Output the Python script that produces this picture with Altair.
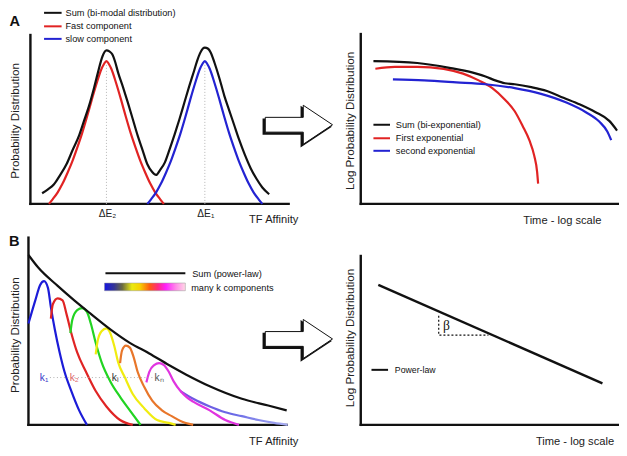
import altair as alt
import pandas as pd

# ---------------- values ----------------
# Panel A, left: probability distribution vs TF affinity (arbitrary units from axis corner)
fast_x = [19, 23, 28, 33, 38, 43, 48, 53, 58, 63, 68, 73, 75.5, 78, 80.5, 83, 88, 93, 98, 103, 108, 113, 118, 123, 128, 133, 137]
fast_y = [0, 5, 12, 21, 32, 44, 58, 73, 90, 108, 125, 140, 145, 148, 145, 140, 125, 108, 90, 73, 58, 44, 32, 21, 12, 5, 0]
slow_x = [120, 124, 129, 134, 139, 144, 149, 154, 159, 164, 169, 174, 176.5, 179, 181.5, 184, 189, 194, 199, 204, 209, 214, 219, 224, 229, 234, 238]
slow_y = [0, 5, 12, 21, 32, 44, 58, 73, 90, 108, 125, 140, 145, 148, 145, 140, 125, 108, 90, 73, 58, 44, 32, 21, 12, 5, 0]
bimodal_x = [12, 18, 24, 30, 37, 43, 50, 55, 60, 65, 69, 74, 78, 81, 84, 87, 90, 95, 100, 105, 110, 115, 120, 125, 129,
             133, 138, 143, 148, 153, 158, 163, 168, 171, 174, 177, 179, 182, 185, 189, 194, 199, 204, 209, 214, 220, 226, 232, 238, 245]
bimodal_y = [11, 15, 20, 29, 41, 55, 71, 86, 101, 119, 135, 153, 159, 158, 155, 147, 136, 121, 105, 88, 71, 56, 41, 33, 30,
             35, 43, 57, 72, 88, 105, 122, 138, 148, 156, 161, 162, 161, 157, 146, 130, 112, 97, 82, 67, 51, 37, 26, 17, 10]
peak_x = [78, 179]
peak_top = [146, 146]
peak_labels = ["ΔE₂", "ΔE₁"]
legendA_left = ["Sum (bi-modal distribution)", "Fast component", "slow component"]

# Panel A, right: log probability vs log time
biexp_x = [13, 58, 91, 115, 128, 138, 148, 158, 175, 191, 208, 225, 241, 255, 263]
biexp_y = [148, 146, 141, 136, 132, 128, 125, 124, 121, 117, 110, 103, 95, 86, 76]
exp1_x = [15, 35, 58, 85, 105, 121, 135, 148, 158, 166, 173, 178, 181, 182]
exp1_y = [140, 142, 142, 140, 135, 128, 120, 108, 96, 81, 66, 50, 33, 21]
exp2_x = [33, 65, 98, 128, 158, 185, 211, 231, 245, 253, 257]
exp2_y = [129, 128, 126, 124, 120, 114, 105, 95, 85, 75, 66]
legendA_right = ["Sum (bi-exponential)", "First exponential", "second exponential"]

# Panel B, left: many k components and their power-law sum
power_x = [0, 10, 30, 47, 64, 84, 104, 124, 144, 162, 186, 219, 246, 265]
power_y = [176, 163, 144, 129, 115, 99, 85, 74, 62, 52, 40, 27, 20, 15]
k1_x = [0, 7, 12, 16, 20, 23, 27, 32, 37, 44, 52, 60]
k1_y = [105, 129, 145, 149, 142, 122, 99, 75, 55, 35, 15, 0]
k2_x = [23, 25, 30, 35, 39, 44, 50, 59, 69, 80, 94, 107]
k2_y = [110, 125, 131, 129, 115, 95, 75, 55, 35, 19, 5, 0]
k3_x = [43, 45, 50, 55, 60, 64, 69, 75, 84, 94, 104, 115]
k3_y = [95, 109, 119, 121, 117, 105, 85, 65, 45, 29, 15, 0]
k4_x = [69, 71, 75, 80, 84, 88, 92, 99, 107, 119, 132, 144, 151]
k4_y = [73, 87, 97, 100, 95, 82, 65, 49, 32, 17, 5, 2, 0]
k5_x = [94, 96, 100, 104, 108, 112, 119, 127, 137, 147, 156, 169]
k5_y = [64, 77, 82, 80, 70, 55, 39, 25, 15, 9, 4, 0]
k6_x = [121, 124, 129, 134, 139, 144, 149, 156, 162, 169, 186, 202, 216]
k6_y = [44, 55, 62, 64, 62, 55, 45, 35, 29, 24, 15, 5, 0]
tail_x = [156, 169, 186, 202, 219, 236, 252, 266]
tail_y = [35, 27, 19, 13, 9, 5, 2, 0]
k_labels = ["k₁", "k₂", "kᵢ", "kₙ"]
legendB_left = ["Sum (power-law)", "many k components"]

# Panel B, right: power law on log-log axes
pl_x = [18, 248]
pl_y = [145, 43]
beta_x = [80, 80, 131]
beta_y = [113, 93, 93]
legendB_right = ["Power-law"]

# ---------------- layout / style ----------------
W, H = 611, 440          # drawing size
FW, FH = 627, 456        # reference frame units
F = 0.97                 # font scale
FONT = "Liberation Sans"
ORG = {"AL": (23, 203), "AR": (362, 203), "BL": (21, 432), "BR": (362, 432)}
AXLEN = {"AL": (265, 175), "AR": (265, 176), "BL": (265, 194), "BR": (265, 175)}

BLACK = "#111111"
RED = "#e12323"
BLUE = "#2323d2"
K_COLORS = ["#1c1cd8", "#e02424", "#22d422", "#f0ec10", "#e8762a", "#e034e0"]
SPECTRUM = [(0.0, "#1515e0"), (0.12, "#353595"), (0.22, "#6a6a40"), (0.34, "#eaea10"), (0.44, "#f7d000"),
            (0.56, "#ff5a10"), (0.66, "#ff2a80"), (0.76, "#ff22ff"), (0.88, "#ff88e8"), (1.0, "#ffd8e6")]


def xs(key):
    ox = ORG[key][0]
    return alt.Scale(domain=[-ox, FW - ox], nice=False, zero=False)


def ys(key):
    oy = ORG[key][1]
    return alt.Scale(domain=[oy - FH, oy], nice=False, zero=False)


FIGX = alt.Scale(domain=[0, FW], nice=False, zero=False)
FIGY = alt.Scale(domain=[0, FH], reverse=True, nice=False, zero=False)


def curve(key, xv, yv, color, width=2.2, interp="monotone", dash=None):
    df = pd.DataFrame({"x": xv, "y": yv, "i": range(len(xv))})
    kw = {}
    if dash is not None:
        kw["strokeDash"] = dash
    if isinstance(color, str):
        kw["color"] = color
    else:
        kw["stroke"] = color
    return alt.Chart(df).mark_line(strokeWidth=width, interpolate=interp, **kw).encode(
        x=alt.X("x:Q", scale=xs(key), axis=None),
        y=alt.Y("y:Q", scale=ys(key), axis=None),
        order="i:Q",
    )


def axes(key):
    lx, ly = AXLEN[key]
    df = pd.DataFrame({"x": [0, 0], "x2": [lx, 0], "y": [0, 0], "y2": [0, ly]})
    return alt.Chart(df).mark_rule(strokeWidth=2.4, color=BLACK, strokeCap="square").encode(
        x=alt.X("x:Q", scale=xs(key), axis=None), x2="x2:Q",
        y=alt.Y("y:Q", scale=ys(key), axis=None), y2="y2:Q",
    )


def fig_text(txt, x, y, size, **kw):
    df = pd.DataFrame({"x": [x], "y": [y], "t": [txt]})
    props = dict(font=FONT, fontSize=size * F, baseline="middle", align="left", color=BLACK)
    props.update(kw)
    return alt.Chart(df).mark_text(**props).encode(
        x=alt.X("x:Q", scale=FIGX, axis=None),
        y=alt.Y("y:Q", scale=FIGY, axis=None),
        text="t:N",
    )


def fig_rule(x1, x2, y, color, width=2.0, dash=None):
    df = pd.DataFrame({"x": [x1], "x2": [x2], "y": [y]})
    kw = {} if dash is None else {"strokeDash": dash}
    return alt.Chart(df).mark_rule(color=color, strokeWidth=width, **kw).encode(
        x=alt.X("x:Q", scale=FIGX, axis=None), x2="x2:Q",
        y=alt.Y("y:Q", scale=FIGY, axis=None),
    )


ARROW = "M -1 -0.22 L 0.13 -0.22 L 0.13 -0.58 L 1 0 L 0.13 0.58 L 0.13 0.22 L -1 0.22 Z"


def arrow(cx, cy):
    size = (2 * 34.5 * W / FW) ** 2
    shadow = pd.DataFrame({"x": [cx - 2], "y": [cy + 2]})
    face = pd.DataFrame({"x": [cx], "y": [cy]})
    enc = dict(x=alt.X("x:Q", scale=FIGX, axis=None), y=alt.Y("y:Q", scale=FIGY, axis=None))
    s = alt.Chart(shadow).mark_point(shape=ARROW, size=size, filled=True, fill=BLACK, stroke=BLACK,
                                     strokeWidth=1.5, opacity=1).encode(**enc)
    f = alt.Chart(face).mark_point(shape=ARROW, size=size, filled=True, fill="white", stroke=BLACK,
                                   strokeWidth=1.0, opacity=1).encode(**enc)
    return [s, f]


layers = []

# ---- Panel A left ----
layers.append(axes("AL"))
for px, pt in zip(peak_x, peak_top):
    layers.append(curve("AL", [px, px], [0, pt], "#b5b5b5", width=1, interp="linear", dash=[1, 2]))
layers.append(curve("AL", fast_x, fast_y, RED))
layers.append(curve("AL", slow_x, slow_y, BLUE))
layers.append(curve("AL", bimodal_x, bimodal_y, BLACK))
pk = pd.DataFrame({"x": [p + 1 for p in peak_x], "y": [-10, -10], "t": peak_labels})
layers.append(alt.Chart(pk).mark_text(font=FONT, fontSize=10.5 * F, color="#222222", baseline="middle").encode(
    x=alt.X("x:Q", scale=xs("AL"), axis=None), y=alt.Y("y:Q", scale=ys("AL"), axis=None), text="t:N"))

# ---- Panel A right ----
layers.append(axes("AR"))
layers.append(curve("AR", exp1_x, exp1_y, RED))
layers.append(curve("AR", exp2_x, exp2_y, BLUE))
layers.append(curve("AR", biexp_x, biexp_y, BLACK))

# ---- Panel B left ----
layers.append(axes("BL"))
tail_grad = alt.LinearGradient(gradient="linear", x1=0, x2=1, y1=0, y2=0,
                               stops=[alt.GradientStop(color="#7450e2", offset=0),
                                      alt.GradientStop(color="#6a6ae6", offset=0.5),
                                      alt.GradientStop(color="#aab0f2", offset=1)])
for (cx, cy), col in zip([(k1_x, k1_y), (k2_x, k2_y), (k3_x, k3_y), (k4_x, k4_y), (k5_x, k5_y)], K_COLORS[:5]):
    layers.append(curve("BL", cx, cy, col))
layers.append(curve("BL", tail_x, tail_y, tail_grad))
layers.append(curve("BL", k6_x, k6_y, K_COLORS[5]))
layers.append(curve("BL", power_x, power_y, BLACK))

# ---- Panel B right ----
layers.append(axes("BR"))
layers.append(curve("BR", beta_x, beta_y, BLACK, width=1.2, interp="linear", dash=[2, 2]))
layers.append(curve("BR", pl_x, pl_y, BLACK, width=2.4, interp="linear"))

# ---- annotations ----
layers += [
    fig_text("A", 7, 14, 15, fontWeight="bold", align="center"),
    fig_text("B", 6.5, 243, 15, fontWeight="bold", align="center"),
]
for yv, col, txt in zip([5, 19, 32], [BLACK, RED, BLUE], legendA_left):
    layers.append(fig_rule(37, 55, yv, col))
    layers.append(fig_text(txt, 59, yv, 9.5))
for yv, col, txt in zip([121, 135, 148], [BLACK, RED, BLUE], legendA_right):
    layers.append(fig_rule(375, 392, yv, col))
    layers.append(fig_text(txt, 398, yv, 9.5))
layers.append(fig_rule(100, 182, 275, BLACK))
grad = alt.LinearGradient(gradient="linear", x1=0, x2=1, y1=0, y2=0,
                          stops=[alt.GradientStop(color=c, offset=o) for o, c in SPECTRUM])
gdf = pd.DataFrame({"x": [99], "x2": [182], "y": [285], "y2": [293]})
layers.append(alt.Chart(gdf).mark_rect(fill=grad, stroke="#999999", strokeWidth=0.5).encode(
    x=alt.X("x:Q", scale=FIGX, axis=None), x2="x2:Q",
    y=alt.Y("y:Q", scale=FIGY, axis=None), y2="y2:Q"))
layers.append(fig_text(legendB_left[0], 189, 276, 9.5))
layers.append(fig_text(legendB_left[1], 188, 290, 9.5))
layers.append(fig_rule(373, 390, 375, BLACK))
layers.append(fig_text(legendB_right[0], 397, 375, 9))

# k labels and dotted guide
layers.append(fig_rule(43, 150, 383, "#b0b0b0", width=1, dash=[1, 2.5]))
for kx, col, txt in zip([37, 68, 110, 155], ["#3a3ac8", "#e06a6a", "#333333", "#555555"], k_labels):
    layers.append(fig_text(txt, kx, 383, 10.5, align="center", color=col))

# axis titles
for (x, y) in [(8, 117), (8, 339)]:
    layers.append(fig_text("Probability Distribution", x, y, 12, angle=270, align="center", color="#222222"))
for (x, y) in [(352, 117), (352, 342)]:
    layers.append(fig_text("Log Probability Distribution", x, y, 12, angle=270, align="center", color="#222222"))
layers.append(fig_text("TF Affinity", 298, 220, 11.5, align="right", color="#222222"))
layers.append(fig_text("TF Affinity", 298, 450, 11.5, align="right", color="#222222"))
layers.append(fig_text("Time - log scale", 609, 221, 11.5, align="right", color="#222222"))
layers.append(fig_text("Time - log scale", 622, 450, 11.5, align="right", color="#222222"))
layers.append(fig_text("β", 450, 330, 14, font="Liberation Serif", align="center"))

# arrows
layers += arrow(298.5, 121)
layers += arrow(298.5, 343)

chart = alt.layer(*layers).resolve_scale(x="independent", y="independent").properties(
    width=W, height=H, padding=0, autosize=alt.AutoSizeParams(type="none"),
    background="white",
).configure_view(stroke=None)

chart.save("out.html", embed_options={"renderer": "svg", "actions": False})
